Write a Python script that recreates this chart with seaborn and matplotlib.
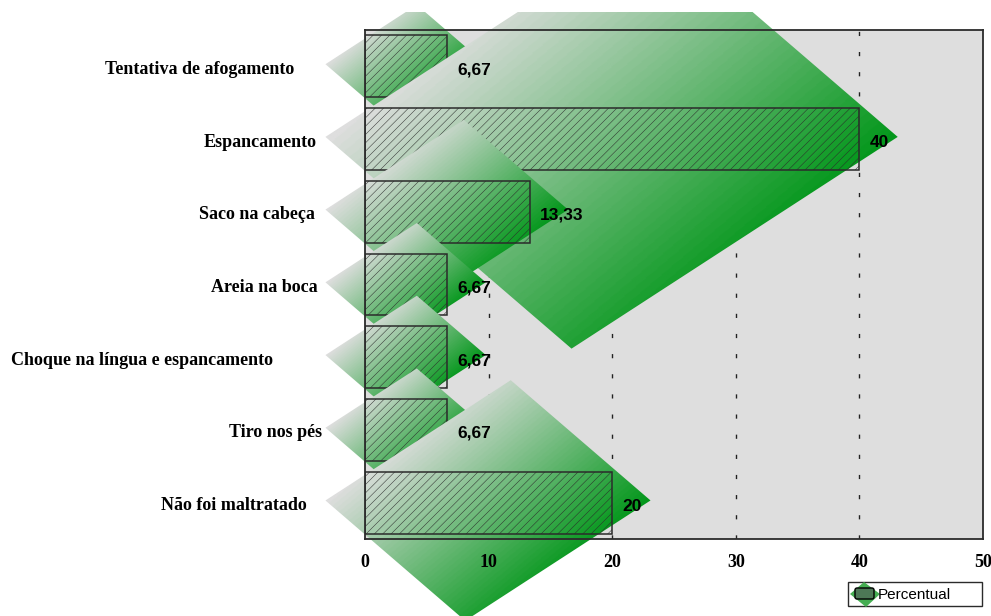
import numpy as np
import pandas as pd
import matplotlib
matplotlib.use("Agg")
import matplotlib.pyplot as plt
import seaborn as sns
from matplotlib.patches import Polygon, Rectangle, FancyBboxPatch
from matplotlib.transforms import Bbox, TransformedBbox, Affine2D

# ---- data -------------------------------------------------------------
categories = [
    "Tentativa de afogamento",
    "Espancamento",
    "Saco na cabeça",
    "Areia na boca",
    "Choque na língua e espancamento",
    "Tiro nos pés",
    "Não foi maltratado",
]
percentual = [6.67, 40, 13.33, 6.67, 6.67, 6.67, 20]
x_ticks = [0, 10, 20, 30, 40, 50]
series_name = "Percentual"

# ---- layout / style -----------------------------------------------------
FIG_W, FIG_H, DPI = 991, 616, 100
AX_LEFT, AX_RIGHT, AX_TOP, AX_BOTTOM = 365, 983, 30, 539   # pixels
label_gap_px = [71, 48, 50, 47, 92, 43, 58]                  # category label distance from axis
BG_GRAY = np.array([222, 222, 222]) / 255
GREEN = np.array([0, 150, 24]) / 255
EDGE = "#2b2b2b"

plt.rcParams["hatch.linewidth"] = 0.35

df = pd.DataFrame({"Categoria": categories, series_name: percentual})

fig = plt.figure(figsize=(FIG_W / DPI, FIG_H / DPI), dpi=DPI)
ax = fig.add_axes([AX_LEFT / FIG_W, 1 - AX_BOTTOM / FIG_H,
                   (AX_RIGHT - AX_LEFT) / FIG_W, (AX_BOTTOM - AX_TOP) / FIG_H])
ax.set_facecolor(BG_GRAY)

sns.barplot(data=df, x=series_name, y="Categoria", orient="h", width=0.85,
            fill=False, color=EDGE, linewidth=1.1, ax=ax)

n = len(categories)
xmax = x_ticks[-1]

# pixel scale of one data unit in x and one category step in y
sx = (AX_RIGHT - AX_LEFT) / xmax
sy = (AX_BOTTOM - AX_TOP) / n

# clip region for the decorative diamonds: whole figure except a thin top strip
clip_box = TransformedBbox(Bbox.from_extents(0, 0, 1, 1 - 12 / FIG_H), fig.transFigure)

# each bar sits on a slanted gradient diamond spanning a little beyond the bar
ang = np.deg2rad(50)
for i, v in enumerate(percentual):
    lx = -3.2
    rx = v + 3.1
    cy = i - 0.03
    w_px = (rx - lx) * sx
    half_h = 0.37 * w_px / sy
    frac = 0.57
    top = (lx + frac * (rx - lx), cy - half_h)
    bot = (lx + (1 - frac) * (rx - lx), cy + half_h)
    verts = [(lx, cy), top, (rx, cy), bot]

    xs = np.linspace(lx, rx, 400)
    ys = np.linspace(cy - half_h, cy + half_h, 400)
    X, Y = np.meshgrid(xs, ys)
    proj = (X - lx) * sx * np.cos(ang) + (Y - cy) * sy * np.sin(ang)
    vp = [(px - lx) * sx * np.cos(ang) + (py - cy) * sy * np.sin(ang) for px, py in verts]
    t = (proj - min(vp)) / (max(vp) - min(vp))
    t = np.clip(np.floor(t * 48) / 48, 0, 1)
    rgb = BG_GRAY[None, None, :] * (1 - t[..., None]) + GREEN[None, None, :] * t[..., None]

    im = ax.imshow(rgb, extent=(lx, rx, cy + half_h, cy - half_h), origin="upper",
                   aspect="auto", interpolation="bilinear", zorder=2 + i)
    poly = Polygon(verts, closed=True, transform=ax.transData)
    im.set_clip_path(poly)
    im.set_clip_box(clip_box)

ax.set_xlim(0, xmax)
ax.set_ylim(n - 0.5, -0.5)

# hatched, transparent bars interleaved with the diamonds
for i, bar in enumerate(ax.patches[:n]):
    bar.set_hatch("////")
    bar.set_facecolor("none")
    bar.set_edgecolor(EDGE)
    bar.set_zorder(2.5 + i)

# value labels
for i, v in enumerate(percentual):
    txt = f"{v:g}".replace(".", ",")
    ax.annotate(txt, xy=(v, i), xytext=(10 * 0.72, -3.5 * 0.72),
                textcoords="offset points", ha="left", va="center",
                fontsize=12.5, fontweight="bold", family="Liberation Sans",
                color="black", zorder=40, annotation_clip=False)

# dashed vertical grid, kept underneath the diamonds
ax.grid(False)
for xt in x_ticks[1:-1]:
    ax.axvline(xt, color="#222222", linewidth=1.0, linestyle=(0, (3, 11.5)), zorder=1.5)

ax.set_xticks(x_ticks)
ax.set_xticklabels([str(x) for x in x_ticks], fontsize=13, fontweight="bold",
                   family="Liberation Serif")
ax.tick_params(axis="x", length=0, pad=11)
ax.set_yticks(range(n))
ax.set_yticklabels([""] * n)
ax.tick_params(axis="y", length=0)
ax.xaxis.set_zorder(35)
ax.set_xlabel("")
ax.set_ylabel("")

for i, (cat, gap) in enumerate(zip(categories, label_gap_px)):
    ax.annotate(cat, xy=(0, i), xycoords=("axes fraction", "data"),
                xytext=(-gap * 0.72, -3 * 0.72), textcoords="offset points",
                ha="right", va="center", fontsize=13, fontweight="bold",
                family="Liberation Serif", annotation_clip=False, zorder=40)

for sp in ax.spines.values():
    sp.set_visible(True)
    sp.set_color(EDGE)
    sp.set_linewidth(1.3)
    sp.set_zorder(30)

# legend box (pixel coordinates measured from the top-left corner)
px = Affine2D().scale(1 / FIG_W, -1 / FIG_H).translate(0, 1) + fig.transFigure
fig.patches.append(Rectangle((848, 582), 134, 24, transform=px, facecolor="white",
                             edgecolor=EDGE, linewidth=1.0))
fig.patches.append(Polygon([(850, 594), (864, 582), (880, 594), (866, 607)],
                           closed=True, transform=px, facecolor="#45ad52",
                           edgecolor="none"))
fig.patches.append(FancyBboxPatch((855, 588), 19, 11, boxstyle="round,pad=0,rounding_size=2",
                                  transform=px, facecolor="#4d7856", edgecolor="black",
                                  linewidth=1.0))
fig.text(878, 595, series_name, transform=px, ha="left", va="center",
         family="Liberation Sans", fontsize=11)

fig.savefig("out.png", dpi=DPI, facecolor="white")
